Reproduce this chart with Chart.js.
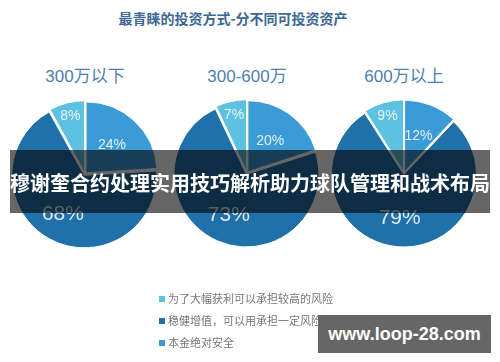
<!DOCTYPE html>
<html>
<head>
<meta charset="utf-8">
<script src="https://cdn.jsdelivr.net/npm/chart.js@4.4.1/dist/chart.umd.min.js"></script>
<style>
    html, body { margin: 0; padding: 0; background: #fff; }
    body { width: 500px; height: 362px; position: relative; overflow: hidden; font-family: "Liberation Sans", "Noto Sans CJK SC", sans-serif; }
    .title { position: absolute; left: 0; width: 466px; top: 8px; text-align: center; font: bold 14px "Noto Sans CJK SC", sans-serif; color: #3c6894; }
    .sub { position: absolute; width: 160px; top: 62px; text-align: center; font-size: 17px; color: #4f7fae; }
    .pie { position: absolute; width: 170px; height: 170px; }
    .banner { position: absolute; left: 10px; top: 150px; width: 480px; height: 63px; background: rgba(0, 0, 0, 0.6); }
    .bannerText { position: absolute; left: 0; width: 500px; top: 168px; text-align: center; white-space: nowrap; font: bold 20px "Noto Sans CJK SC", sans-serif; color: #fff; }
    .legend { position: absolute; left: 159px; top: 290px; font: 11px "Noto Sans CJK SC", sans-serif; color: #777; }
    .legend div { height: 22px; line-height: 16px; }
    .legend span { display: inline-block; width: 6px; height: 6px; margin-right: 3px; vertical-align: 1px; }
    .mark { position: absolute; left: 318px; top: 315px; width: 173px; height: 38px; background: #666; color: #fff; font: bold 18px "Liberation Sans", sans-serif; text-align: center; line-height: 38px; }
</style>
</head>
<body>
<div class="title" id="title"></div>
<div id="subs"></div>
<canvas class="pie" id="pie0" width="170" height="170"></canvas>
<canvas class="pie" id="pie1" width="170" height="170"></canvas>
<canvas class="pie" id="pie2" width="170" height="170"></canvas>
<div class="legend" id="legend"></div>
<div class="banner"></div>
<div class="bannerText" id="bannerText"></div>
<div class="mark">www.loop-28.com</div>
<script>
const chartTitle = '最青睐的投资方式-分不同可投资资产';
const groups = ['300万以下', '300-600万', '600万以上'];
// order of slices clockwise from the top
const categories = ['本金绝对安全', '稳健增值，可以用承担一定风险', '为了大幅获利可以承担较高的风险'];
const safeValues = [24, 20, 12];
const steadyValues = [68, 73, 79];
const riskValues = [8, 7, 9];
const legendOrder = [2, 1, 0];
const bannerTitle = '穆谢奎合约处理实用技巧解析助力球队管理和战术布局';

const colors = ['#3a9bd6', '#2070aa', '#5dc2e2'];
const centers = [[85, 174], [247, 173], [404, 173]];

document.getElementById('title').textContent = chartTitle;
document.getElementById('bannerText').textContent = bannerTitle;

const subs = document.getElementById('subs');
groups.forEach((g, i) => {
    const d = document.createElement('div');
    d.className = 'sub';
    d.style.left = (centers[i][0] - 80) + 'px';
    d.textContent = g;
    subs.appendChild(d);
});

const legend = document.getElementById('legend');
legendOrder.forEach(k => {
    const row = document.createElement('div');
    row.innerHTML = `<span style="background:${colors[k]}"></span>${categories[k]}`;
    legend.appendChild(row);
});

// percent labels inside the slices
const sliceLabels = {
    id: 'sliceLabels',
    afterDatasetsDraw(chart) {
        const ctx = chart.ctx;
        const meta = chart.getDatasetMeta(0);
        const values = chart.data.datasets[0].data;
        ctx.save();
        ctx.textAlign = 'center';
        ctx.textBaseline = 'middle';
        ctx.fillStyle = 'rgba(255,255,255,0.85)';
        meta.data.forEach((arc, i) => {
            const v = values[i];
            const mid = (arc.startAngle + arc.endAngle) / 2;
            const k = v < 10 ? 0.75 : (v < 50 ? 0.47 : 0.56);
            const dist = arc.outerRadius * k + 6;
            ctx.font = (v > 50 ? 21 : 14) + 'px "Liberation Sans", sans-serif';
            ctx.fillText(v + '%', arc.x + Math.cos(mid) * dist, arc.y + Math.sin(mid) * dist);
        });
        ctx.restore();
    }
};

groups.forEach((g, i) => {
    const canvas = document.getElementById('pie' + i);
    canvas.style.left = (centers[i][0] - 85) + 'px';
    canvas.style.top = (centers[i][1] - 85) + 'px';
    new Chart(canvas.getContext('2d'), {
        type: 'pie',
        data: {
            labels: categories,
            datasets: [{
                data: [safeValues[i], steadyValues[i], riskValues[i]],
                backgroundColor: colors,
                borderColor: '#fff',
                borderWidth: 1,
                offset: 6,
                radius: 71
            }]
        },
        options: {
            responsive: false,
            animation: false,
            layout: { padding: 0 },
            plugins: {
                legend: { display: false },
                tooltip: { enabled: false }
            }
        },
        plugins: [sliceLabels]
    });
});
</script>
</body>
</html>
